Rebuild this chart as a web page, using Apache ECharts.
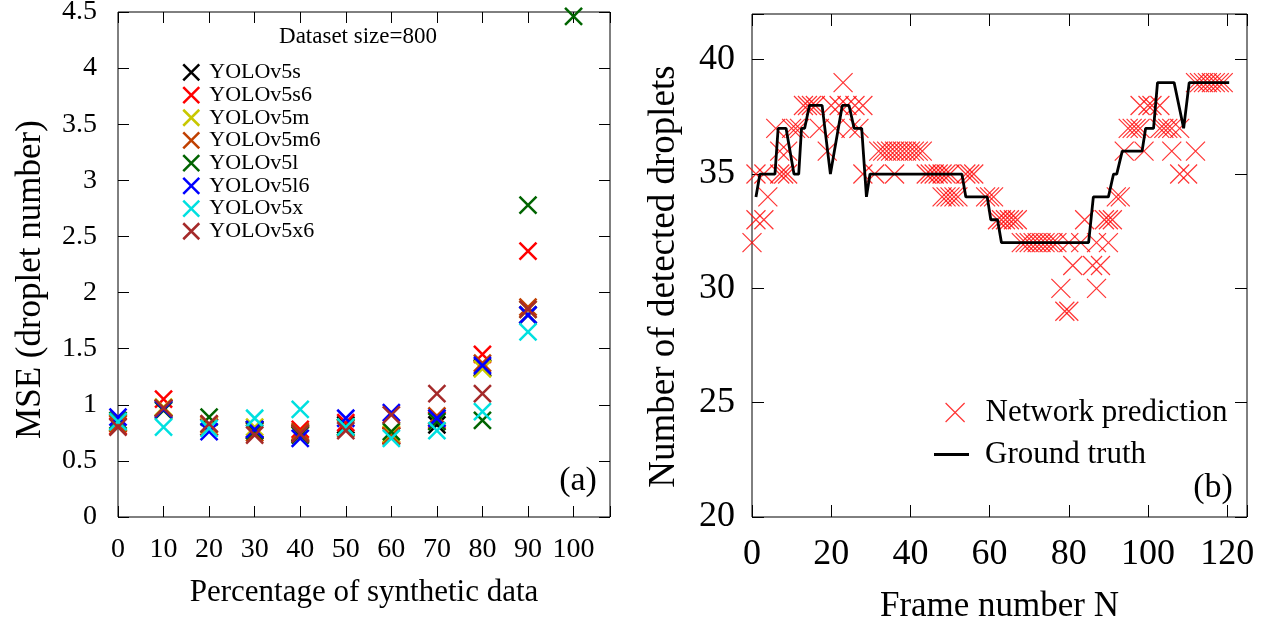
<!DOCTYPE html>
<html><head><meta charset="utf-8">
<script src="https://cdn.jsdelivr.net/npm/echarts@6/dist/echarts.min.js"></script>
<style>html,body{margin:0;padding:0;background:#fff}#c{width:1270px;height:623px}</style>
</head><body><div id="c"></div>
<script>
// ---------- Panel (a): MSE vs percentage of synthetic data ----------
const percentages = [0, 10, 20, 30, 40, 50, 60, 70, 80, 90, 100];
const yolov5s  = [0.84, 0.97, 0.80, 0.78, 0.75, 0.82, 0.72, 0.82, 1.33, 1.80, null];
const yolov5s6 = [0.81, 1.05, 0.80, 0.77, 0.78, 0.84, 0.73, 0.86, 1.45, 2.37, null];
const yolov5m  = [0.84, 0.98, 0.82, 0.80, 0.74, 0.80, 0.74, 0.88, 1.32, 1.85, null];
const yolov5m6 = [0.83, 0.97, 0.83, 0.75, 0.76, 0.79, 0.72, 0.90, 1.37, 1.87, null];
const yolov5l  = [0.86, 0.95, 0.89, 0.77, 0.73, 0.80, 0.76, 0.85, 0.86, 2.78, 4.46];
const yolov5l6 = [0.89, 0.96, 0.76, 0.78, 0.70, 0.88, 0.93, 0.88, 1.35, 1.80, null];
const yolov5x  = [0.85, 0.80, 0.79, 0.88, 0.96, 0.80, 0.70, 0.77, 0.94, 1.65, null];
const yolov5x6 = [0.80, 0.97, 0.83, 0.73, 0.74, 0.77, 0.91, 1.10, 1.10, 1.85, null];
const modelNames = ['YOLOv5s','YOLOv5s6','YOLOv5m','YOLOv5m6','YOLOv5l','YOLOv5l6','YOLOv5x','YOLOv5x6'];
const modelValues = [yolov5s, yolov5s6, yolov5m, yolov5m6, yolov5l, yolov5l6, yolov5x, yolov5x6];
const modelColors = ['#000000','#ff0000','#c8c800','#c04000','#006400','#0000ff','#00e0e0','#a52a2a'];

// ---------- Panel (b): detected droplets per frame ----------
// [frame N, number of droplets]
const predictions = [
  [0,32],[1,33],[1,35],[3,33],[3,35],[4,34],[6,37],[7,35],[7,36],[8,35],[9,35],[9,36],[10,37],[11,37],[12,37],
  [13,38],[14,38],[15,38],[16,38],[17,37],[19,36],[20,38],[21,37],[22,38],[23,39],[24,38],[25,37],[26,38],[27,37],[28,38],
  [28,35],[31,35],
  [32,36],[33,36],[34,36],[35,36],[36,36],[37,36],[38,36],[39,36],[40,36],[41,36],[42,36],[43,36],
  [36,35],[44,35],[45,35],[46,35],[47,35],[48,35],[49,35],[50,35],
  [48,34],[49,34],[50,34],[51,34],[52,34],
  [54,35],[55,35],[56,35],
  [59,34],[60,34],[61,34],
  [62,33],[63,33],[64,33],[65,33],[66,33],[67,33],
  [68,32],[69,32],[70,32],[71,32],[72,32],[73,32],[74,32],[75,32],[76,32],[77,32],
  [78,30],[79,29],[80,29],[80,32],[81,31],[83,32],[84,33],[86,31],[87,30],[87,32],[88,31],[89,33],[90,33],[90,32],[91,33],
  [92,34],[93,34],
  [94,36],[95,37],[96,37],[97,37],[98,37],[98,38],[99,36],[100,38],[101,38],[103,38],
  [103,37],[104,37],[105,37],[106,37],[106,36],[108,37],[108,35],[110,35],[112,36],
  [112,39],[113,39],[114,39],[115,39],[116,39],[117,39],[118,39],[119,39]
];
const groundTruth = [
  [1,34],[2,35],[5.8,35],[6.6,37],[8.6,37],[10.6,35],[11.8,35],[12.5,37],[13.3,37],[14.5,38],[17.7,38],
  [19.8,35],[22.8,38],[24.5,38],[25.8,37],[27.7,37],[28.9,34],[29.8,35],[53,35],[54,34],[59.4,34],
  [60.3,33],[62,33],[63,32],[85,32],[86.2,34],[90,34],[91.3,35],[92.1,35],[93.5,36],[98.5,36],
  [99.4,37],[101.4,37],[102.4,39],[106.6,39],[109,37],[110.4,39],[120.5,39]
];

const FONT = 'Liberation Serif';
const XSYM = 'path://M0,0L10,10M10,0L0,10';

const chart = echarts.init(document.getElementById('c'), null, {renderer: 'canvas'});

function ticks(len) {
  return {show: true, inside: true, length: len, lineStyle: {color: '#000', width: 1}};
}
function axis(extra) {
  return Object.assign({
    type: 'value',
    axisLine: {show: false, onZero: false},
    splitLine: {show: false},
    axisTick: ticks(11)
  }, extra);
}

const leftSeries = modelNames.map((name, i) => ({
  name: name,
  type: 'scatter',
  xAxisIndex: 0, yAxisIndex: 0,
  symbol: XSYM,
  symbolSize: 17,
  clip: false,
  itemStyle: {color: 'transparent', borderColor: modelColors[i], borderWidth: 2.5, opacity: 1},
  emphasis: {disabled: true},
  data: percentages.map((p, j) => modelValues[i][j] == null ? null : [p, modelValues[i][j]]).filter(d => d)
}));

const gridStyle = {show: true, borderColor: '#000', borderWidth: 1, backgroundColor: 'transparent', outerBoundsMode: 'none', containLabel: false};

const option = {
  animation: false,
  backgroundColor: '#fff',
  textStyle: {fontFamily: FONT},
  grid: [
    Object.assign({left: 118, top: 12, width: 492, height: 505}, gridStyle),
    Object.assign({left: 752, top: 14, width: 495, height: 503}, gridStyle)
  ],
  xAxis: [
    axis({gridIndex: 0, min: 0, max: 108, interval: 10, position: 'bottom',
      name: 'Percentage of synthetic data', nameLocation: 'middle', nameGap: 60,
      nameTextStyle: {fontFamily: FONT, fontSize: 31, color: '#000'},
      axisLabel: {fontFamily: FONT, fontSize: 28, color: '#000', margin: 19,
        formatter: v => (v % 10 === 0 && v <= 100) ? String(v) : ''}}),
    axis({gridIndex: 0, min: 0, max: 108, interval: 10, position: 'top', axisLabel: {show: false}}),
    axis({gridIndex: 1, min: 0, max: 125, interval: 20, position: 'bottom',
      name: 'Frame number N', nameLocation: 'middle', nameGap: 72,
      nameTextStyle: {fontFamily: FONT, fontSize: 35, color: '#000'},
      axisTick: ticks(12),
      axisLabel: {fontFamily: FONT, fontSize: 36, color: '#000', margin: 20,
        formatter: v => (v % 20 === 0 && v <= 120) ? String(v) : ''}}),
    axis({gridIndex: 1, min: 0, max: 125, interval: 20, position: 'top', axisLabel: {show: false}, axisTick: ticks(12)})
  ],
  yAxis: [
    axis({gridIndex: 0, min: 0, max: 4.5, interval: 0.5, position: 'left',
      name: 'MSE (droplet number)', nameLocation: 'middle', nameGap: 70,
      nameTextStyle: {fontFamily: FONT, fontSize: 35, color: '#000', padding: [0, 30, 0, 0]},
      axisLabel: {fontFamily: FONT, fontSize: 28, color: '#000', margin: 21}}),
    axis({gridIndex: 0, min: 0, max: 4.5, interval: 0.5, position: 'right', axisLabel: {show: false}}),
    axis({gridIndex: 1, min: 20, max: 42, interval: 5, position: 'left',
      name: 'Number of detected droplets', nameLocation: 'middle', nameGap: 69,
      nameTextStyle: {fontFamily: FONT, fontSize: 37, color: '#000', padding: [0, 22, 0, 0]},
      axisTick: ticks(12),
      axisLabel: {fontFamily: FONT, fontSize: 36, color: '#000', margin: 17,
        formatter: v => (v % 5 === 0 && v <= 40) ? String(v) : ''}}),
    axis({gridIndex: 1, min: 20, max: 42, interval: 5, position: 'right', axisLabel: {show: false}, axisTick: ticks(12)})
  ],
  legend: [
    {
      data: modelNames.map(n => ({name: n, icon: XSYM})),
      orient: 'vertical', left: 177, top: 56,
      itemWidth: 16, itemHeight: 16, itemGap: 0,
      selectedMode: false,
      itemStyle: {borderWidth: 2.5, color: 'transparent'},
      textStyle: {fontFamily: FONT, fontSize: 22, color: '#000', lineHeight: 22.7, padding: [0, 0, 0, 5]}
    },
    {
      data: [{name: 'Network prediction', icon: XSYM}],
      orient: 'vertical', left: 940, top: 392,
      itemWidth: 19, itemHeight: 19,
      selectedMode: false,
      itemStyle: {borderWidth: 1.2, color: 'transparent'},
      textStyle: {fontFamily: FONT, fontSize: 31, color: '#000', padding: [0, 0, 0, 16]}
    },
    {
      data: [{name: 'Ground truth', icon: 'rect'}],
      orient: 'vertical', left: 929, top: 434,
      itemWidth: 35, itemHeight: 3,
      selectedMode: false,
      textStyle: {fontFamily: FONT, fontSize: 31, color: '#000', padding: [0, 0, 0, 11]}
    }
  ],
  graphic: [
    {type: 'text', x: 358, y: 37, style: {text: 'Dataset size=800', font: '23px "Liberation Serif"', fill: '#000', textAlign: 'center', textVerticalAlign: 'middle'}},
    {type: 'text', x: 578, y: 481, style: {text: '(a)', font: '34px "Liberation Serif"', fill: '#000', textAlign: 'center', textVerticalAlign: 'middle'}},
    {type: 'text', x: 1213, y: 488, style: {text: '(b)', font: '34px "Liberation Serif"', fill: '#000', textAlign: 'center', textVerticalAlign: 'middle'}}
  ],
  series: leftSeries.concat([
    {
      name: 'Network prediction', type: 'scatter', xAxisIndex: 2, yAxisIndex: 2,
      symbol: XSYM, symbolSize: 19, clip: false,
      itemStyle: {color: 'transparent', borderColor: '#ff0000', borderWidth: 1.2},
      emphasis: {disabled: true},
      data: predictions
    },
    {
      name: 'Ground truth', type: 'line', xAxisIndex: 2, yAxisIndex: 2,
      showSymbol: false, symbol: 'none',
      lineStyle: {color: '#000', width: 2.8},
      itemStyle: {color: '#000'},
      emphasis: {disabled: true},
      data: groundTruth
    }
  ])
};
chart.setOption(option);
</script>
</body></html>
